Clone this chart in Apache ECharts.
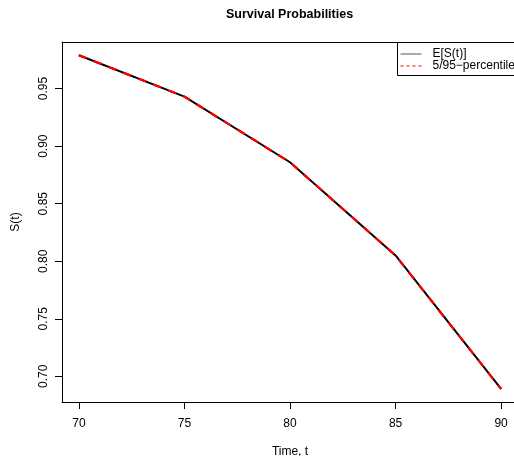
<!DOCTYPE html>
<html>
<head>
<meta charset="utf-8">
<script src="https://cdn.jsdelivr.net/npm/echarts@6/dist/echarts.min.js"></script>
<style>
  html, body { margin: 0; padding: 0; background: #fff; }
  #chart { width: 514px; height: 456px; }
</style>
</head>
<body>
<div id="chart"></div>
<script>
// ---- data ----
const times = [70, 75, 80, 85, 90]
const meanSurv = [0.979, 0.943, 0.886, 0.805, 0.689]
const p5Surv = [0.979, 0.943, 0.886, 0.805, 0.689]
const p95Surv = [0.979, 0.943, 0.886, 0.805, 0.689]
const xTicks = [70, 75, 80, 85, 90]
const yTicks = [0.70, 0.75, 0.80, 0.85, 0.90, 0.95]

const font = 'Liberation Sans, Arial, Helvetica, sans-serif'
const pctName = '5/95\u2212percentile'

function pairs(xs, ys) {
  return xs.map((x, i) => [x, ys[i]])
}

const chart = echarts.init(document.getElementById('chart'), null, { renderer: 'canvas' })

// R-style box: left, bottom and top lines only (right side runs off the canvas)
const boxLine = { show: true, lineStyle: { color: '#000', width: 1 } }

chart.setOption({
  animation: false,
  backgroundColor: '#fff',
  textStyle: { fontFamily: font, color: '#000' },
  title: {
    text: 'Survival Probabilities',
    left: 221,
    top: 3,
    textStyle: { fontFamily: font, fontSize: 12.5, fontWeight: 'bold', color: '#000' }
  },
  // legend frame (open on the right, like the clipped R legend)
  graphic: [{
    type: 'rect',
    z: 10,
    shape: { x: 397.5, y: 42.5, width: 200, height: 33 },
    style: { fill: '#fff', stroke: '#000', lineWidth: 1 }
  }],
  legend: {
    orient: 'vertical',
    left: 397,
    top: 42,
    z: 20,
    padding: [6, 5, 5, 3],
    itemGap: 0,
    itemWidth: 21,
    itemHeight: 13,
    itemStyle: { opacity: 0 },
    textStyle: { fontFamily: font, fontSize: 12, color: '#000', padding: [0, 0, 0, 6] },
    data: [
      { name: 'E[S(t)]', lineStyle: { width: 1, color: '#555' } },
      { name: pctName, lineStyle: { width: 1, type: [3, 3] } }
    ]
  },
  grid: {
    left: 62,
    top: 42,
    width: 456,
    height: 360,
    outerBoundsMode: 'none',
    containLabel: false,
    show: false
  },
  xAxis: [
    {
      type: 'value',
      position: 'bottom',
      min: 69.2,
      max: 90.8,
      name: 'Time, t',
      nameLocation: 'middle',
      nameGap: 44,
      nameTextStyle: { fontFamily: font, fontSize: 12, color: '#000' },
      axisLine: boxLine,
      splitLine: { show: false },
      axisTick: { show: true, inside: false, length: 7, customValues: xTicks, lineStyle: { color: '#000' } },
      axisLabel: { customValues: xTicks, margin: 16, fontFamily: font, fontSize: 12, color: '#000' }
    },
    {
      type: 'value',
      position: 'top',
      min: 69.2,
      max: 90.8,
      axisLine: boxLine,
      splitLine: { show: false },
      axisTick: { show: false },
      axisLabel: { show: false }
    }
  ],
  yAxis: {
    type: 'value',
    min: 0.6777,
    max: 0.9905,
    name: 'S(t)',
    nameLocation: 'middle',
    nameGap: 40,
    nameTextStyle: { fontFamily: font, fontSize: 12, color: '#000' },
    axisLine: boxLine,
    splitLine: { show: false },
    axisTick: { show: true, inside: false, length: 7, customValues: yTicks, lineStyle: { color: '#000' } },
    axisLabel: {
      customValues: yTicks,
      rotate: 90,
      margin: 12,
      fontFamily: font,
      fontSize: 12,
      color: '#000',
      formatter: v => v.toFixed(2)
    }
  },
  series: [
    {
      name: 'E[S(t)]',
      type: 'line',
      data: pairs(times, meanSurv),
      symbol: 'none',
      lineStyle: { color: '#000', width: 2 },
      itemStyle: { color: '#000' }
    },
    {
      name: pctName,
      type: 'line',
      data: pairs(times, p5Surv),
      symbol: 'none',
      lineStyle: { color: '#ff0000', width: 2, type: [8, 8] },
      itemStyle: { color: '#ff0000' }
    },
    {
      name: pctName,
      type: 'line',
      data: pairs(times, p95Surv),
      symbol: 'none',
      lineStyle: { color: '#ff0000', width: 2, type: [8, 8] },
      itemStyle: { color: '#ff0000' }
    }
  ]
})
</script>
</body>
</html>
